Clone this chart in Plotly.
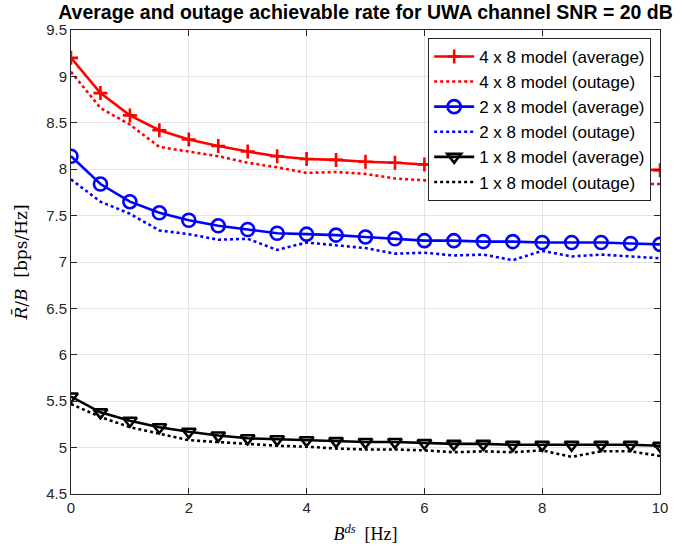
import plotly.graph_objects as go

# Doppler spread values (Hz)
b_ds = [0, 0.5, 1, 1.5, 2, 2.5, 3, 3.5, 4, 4.5, 5, 5.5, 6, 6.5, 7, 7.5, 8, 8.5, 9, 9.5, 10]

# Normalised achievable rate R/B (bps/Hz)
rate_4x8_avg = [9.20, 8.82, 8.58, 8.42, 8.32, 8.25, 8.19, 8.14, 8.11, 8.10, 8.08, 8.07, 8.05,
                8.04, 8.03, 8.02, 8.02, 8.01, 8.00, 8.00, 7.99]
rate_4x8_out = [9.05, 8.66, 8.48, 8.24, 8.19, 8.14, 8.07, 8.02, 7.96, 7.97, 7.95, 7.90, 7.88,
                7.87, 7.87, 7.86, 7.86, 7.85, 7.85, 7.84, 7.84]
rate_2x8_avg = [8.14, 7.84, 7.65, 7.53, 7.45, 7.39, 7.35, 7.31, 7.30, 7.29, 7.27, 7.25, 7.23,
                7.23, 7.22, 7.22, 7.21, 7.21, 7.21, 7.20, 7.19]
rate_2x8_out = [7.89, 7.65, 7.52, 7.34, 7.30, 7.24, 7.25, 7.13, 7.21, 7.18, 7.15, 7.09, 7.10,
                7.07, 7.08, 7.02, 7.12, 7.06, 7.08, 7.06, 7.04]
rate_1x8_avg = [5.55, 5.38, 5.29, 5.22, 5.17, 5.13, 5.10, 5.09, 5.08, 5.07, 5.06, 5.06, 5.05,
                5.04, 5.04, 5.03, 5.03, 5.03, 5.03, 5.03, 5.02]
rate_1x8_out = [5.47, 5.33, 5.22, 5.15, 5.08, 5.06, 5.04, 5.02, 5.01, 4.99, 4.98, 4.98, 4.97,
                4.95, 4.96, 4.95, 4.97, 4.90, 4.96, 4.96, 4.91]

x_ticks = [0, 2, 4, 6, 8, 10]
y_ticks = [4.5, 5, 5.5, 6, 6.5, 7, 7.5, 8, 8.5, 9, 9.5]

FONT = "Liberation Sans, Arial, sans-serif"
SERIF = "Liberation Serif, DejaVu Serif, serif"
AX = "#262626"
LW = 2.6

fig = go.Figure()

series = [
    ("4 x 8 model (average)", rate_4x8_avg, "#ff0000", "solid", "cross-thin-open", 10),
    ("4 x 8 model (outage)", rate_4x8_out, "#ff0000", "dot", None, 0),
    ("2 x 8 model (average)", rate_2x8_avg, "#0000ff", "solid", "circle-open", 13),
    ("2 x 8 model (outage)", rate_2x8_out, "#0000ff", "dot", None, 0),
    ("1 x 8 model (average)", rate_1x8_avg, "#000000", "solid", "triangle-down-open", 12),
    ("1 x 8 model (outage)", rate_1x8_out, "#000000", "dot", None, 0),
]

for name, vals, color, dash, sym, size in series:
    if sym:
        fig.add_trace(go.Scatter(
            x=b_ds, y=vals, name=name, mode="lines+markers",
            line=dict(color=color, width=LW, dash=dash),
            marker=dict(symbol=sym, size=size, color=color,
                        line=dict(color=color, width=2.6)),
        ))
    else:
        fig.add_trace(go.Scatter(
            x=b_ds, y=vals, name=name, mode="lines",
            line=dict(color=color, width=LW, dash=dash),
        ))

fig.update_layout(
    width=685, height=553,
    margin=dict(l=71, r=25, t=30, b=56),
    paper_bgcolor="white", plot_bgcolor="white",
    font=dict(family=FONT, size=15, color=AX),
    title=dict(
        text="<b>Average and outage achievable rate for UWA channel SNR = 20 dB</b>",
        x=0.5, xref="paper", xanchor="center",
        y=1 - 12 / 553, yref="container", yanchor="middle",
        font=dict(family=FONT, size=19.5, color="#000000"),
    ),
    legend=dict(
        x=0.985, y=0.983, xanchor="right", yanchor="top",
        bgcolor="white", bordercolor=AX, borderwidth=1,
        font=dict(family=FONT, size=17, color="#000000"),
        tracegroupgap=0, itemwidth=40,
    ),
    showlegend=True,
)

fig.update_xaxes(
    range=[0, 10], tickvals=x_ticks, ticktext=[str(v) for v in x_ticks],
    showgrid=True, gridcolor="#e3e3e3", gridwidth=1,
    showline=True, linecolor=AX, linewidth=1, mirror="ticks",
    ticks="inside", ticklen=6, tickcolor=AX, zeroline=False,
    title=dict(text="<i>B</i><sup><i>ds</i></sup>  [Hz]",
               font=dict(family=SERIF, size=18, color="#000000"),
               standoff=12),
)
fig.update_yaxes(
    range=[4.5, 9.5], tickvals=y_ticks, ticktext=[f"{v:g}" for v in y_ticks],
    showgrid=True, gridcolor="#e3e3e3", gridwidth=1,
    showline=True, linecolor=AX, linewidth=1, mirror="ticks",
    ticks="inside", ticklen=6, tickcolor=AX, zeroline=False,
    title=dict(text="<i>R\u0304</i>/<i>B</i>  [bps/Hz]",
               font=dict(family="DejaVu Serif, serif", size=17, color="#000000"),
               standoff=14),
)

fig.write_html("out.html")
